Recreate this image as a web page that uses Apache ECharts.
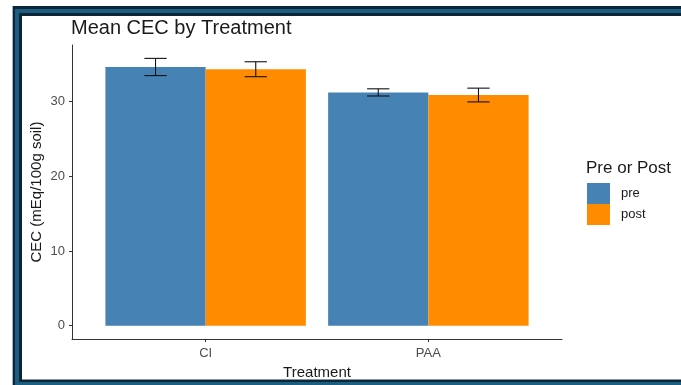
<!DOCTYPE html>
<html>
<head>
<meta charset="utf-8">
<script src="https://cdn.jsdelivr.net/npm/echarts@6/dist/echarts.min.js"></script>
<style>
  html, body { margin: 0; padding: 0; background: #ffffff; }
  #chart { width: 681px; height: 385px; }
</style>
</head>
<body>
<div id="chart"></div>
<script>
// Mean CEC per treatment, before and after, with standard-error bars
const treatments = ['CI', 'PAA'];
const groups = ['pre', 'post'];
const preMean = [34.6, 31.2];
const postMean = [34.3, 30.85];
const preErr = [1.15, 0.48];
const postErr = [1.0, 0.92];
const yTicks = [0, 10, 20, 30];

const colors = { pre: '#4682B4', post: '#FF8C00' };
const dodge = 0.45;     // width of each bar in category units
const whisker = 0.05;   // half-width of the error-bar caps
const font = '"Liberation Sans", Arial, sans-serif';

const positions = treatments.map((t, i) => i + 1);

function barSeries(name, means, side) {
  return {
    type: 'custom',
    name: name,
    itemStyle: { color: colors[name] },
    encode: { x: 0, y: 1 },
    data: positions.map((p, i) => [p, means[i]]),
    renderItem: function (params, api) {
      const x = api.value(0), y = api.value(1);
      const x0 = side < 0 ? x - dodge : x;
      const a = api.coord([x0, y]);
      const b = api.coord([x0 + dodge, 0]);
      return {
        type: 'rect',
        shape: { x: a[0], y: a[1], width: b[0] - a[0], height: b[1] - a[1] },
        style: { fill: colors[name] }
      };
    },
    z: 2
  };
}

function errSeries(means, errs, side) {
  return {
    type: 'custom',
    name: 'err',
    encode: { x: 0, y: [1, 2] },
    data: positions.map((p, i) => [p + side * dodge / 2, means[i] - errs[i], means[i] + errs[i]]),
    renderItem: function (params, api) {
      const x = api.value(0), lo = api.value(1), hi = api.value(2);
      const top = api.coord([x, hi]), bot = api.coord([x, lo]);
      const l = api.coord([x - whisker, hi])[0], r = api.coord([x + whisker, hi])[0];
      const st = { stroke: '#111111', lineWidth: 1.1 };
      return {
        type: 'group',
        children: [
          { type: 'line', shape: { x1: top[0], y1: top[1], x2: bot[0], y2: bot[1] }, style: st },
          { type: 'line', shape: { x1: l, y1: top[1], x2: r, y2: top[1] }, style: st },
          { type: 'line', shape: { x1: l, y1: bot[1], x2: r, y2: bot[1] }, style: st }
        ]
      };
    },
    z: 3
  };
}

const chart = echarts.init(document.getElementById('chart'), null, { renderer: 'canvas' });

chart.setOption({
  animation: false,
  backgroundColor: '#ffffff',
  graphic: [
    { type: 'rect', z: -10, shape: { x: 12, y: 6, width: 720, height: 420 }, style: { fill: '#0b2636' } },
    { type: 'rect', z: -10, shape: { x: 15, y: 9, width: 720, height: 420 }, style: { fill: '#1d5e80' } },
    { type: 'rect', z: -10, shape: { x: 19, y: 13, width: 720, height: 369 }, style: { fill: '#0b2636' } },
    { type: 'rect', z: -10, shape: { x: 22, y: 16, width: 720, height: 363.5 }, style: { fill: '#ffffff' } },
    { type: 'rect', z: -10, shape: { x: 12, y: 6, width: 1, height: 420 }, style: { fill: '#9fb2bf' } }
  ],
  title: [
    {
      text: 'Mean CEC by Treatment',
      left: 71, top: 18, padding: 0,
      textStyle: { fontFamily: font, fontSize: 20, fontWeight: 'normal', color: '#1a1a1a' }
    },
    {
      text: 'Pre or Post',
      left: 586, top: 160, padding: 0,
      textStyle: { fontFamily: font, fontSize: 17, fontWeight: 'normal', color: '#1a1a1a' }
    }
  ],
  legend: {
    data: groups.map(g => ({ name: g, icon: 'rect' })),
    orient: 'vertical',
    left: 587, top: 183,
    padding: 0,
    itemWidth: 23, itemHeight: 21, itemGap: 0,
    selectedMode: false,
    textStyle: { fontFamily: font, fontSize: 13, color: '#1a1a1a', padding: [0, 0, 0, 6] }
  },
  grid: { left: 72, right: 119, top: 45, bottom: 43, containLabel: false },
  xAxis: {
    type: 'value',
    min: 0.4, max: 2.6,
    name: 'Treatment',
    nameLocation: 'middle',
    nameGap: 21,
    nameTextStyle: { fontFamily: font, fontSize: 15, color: '#1a1a1a' },
    axisLine: { show: true, onZero: false, lineStyle: { color: '#333333', width: 1 } },
    axisTick: { show: true, length: 3, customValues: positions, lineStyle: { color: '#333333' } },
    axisLabel: {
      customValues: positions,
      formatter: v => treatments[Math.round(v) - 1] || '',
      fontFamily: font, fontSize: 13, color: '#4d4d4d', margin: 8
    },
    splitLine: { show: false }
  },
  yAxis: {
    type: 'value',
    min: -1.79, max: 37.54,
    name: 'CEC (mEq/100g soil)',
    nameLocation: 'middle',
    nameGap: 28,
    nameMoveOverlap: false,
    nameTextStyle: { fontFamily: font, fontSize: 15, color: '#1a1a1a' },
    axisLine: { show: true, onZero: false, lineStyle: { color: '#333333', width: 1 } },
    axisTick: { show: true, length: 3, customValues: yTicks, lineStyle: { color: '#333333' } },
    axisLabel: {
      customValues: yTicks,
      fontFamily: font, fontSize: 13, color: '#4d4d4d', margin: 7
    },
    splitLine: { show: false }
  },
  series: [
    barSeries('pre', preMean, -1),
    barSeries('post', postMean, 1),
    errSeries(preMean, preErr, -1),
    errSeries(postMean, postErr, 1)
  ]
});
</script>
</body>
</html>
